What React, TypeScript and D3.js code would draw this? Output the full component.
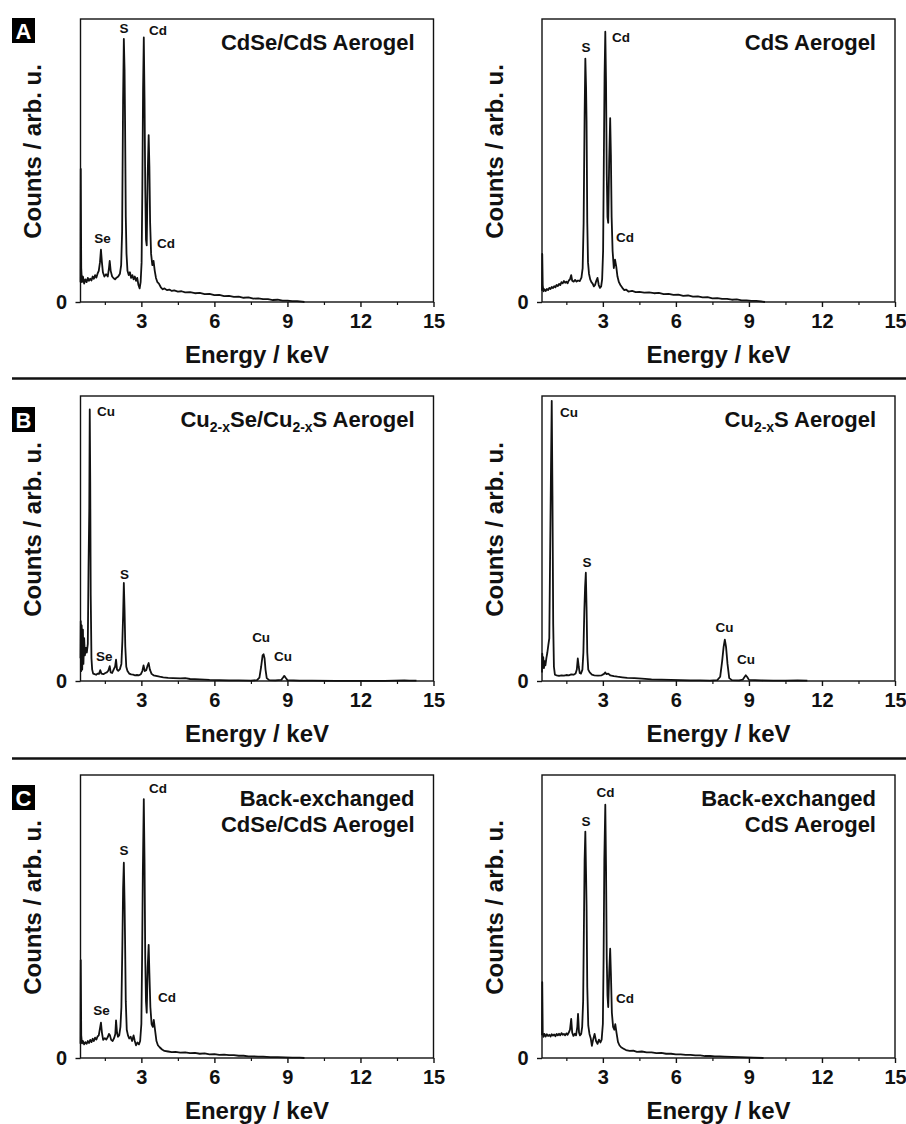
import React, { useRef, useEffect } from 'react';
import * as d3 from 'd3';

type Pt = [number, number];

// EDX spectra, energy in keV, counts as % of the plot height
const cdseCds: Pt[] = [
  [0.50, 7], [0.51, 47], [0.53, 12], [0.56, 7], [0.60, 9], [0.65, 6.5], [0.70, 8], [0.75, 7], [0.80, 8.5],
  [0.85, 7.5], [0.90, 8.2], [0.95, 7.6], [1.00, 9], [1.05, 8.2], [1.10, 9.5], [1.15, 8.6], [1.20, 10],
  [1.25, 11], [1.30, 14], [1.34, 18.5], [1.38, 14], [1.42, 10.5], [1.48, 9], [1.55, 9.8], [1.62, 9],
  [1.67, 12], [1.70, 14.5], [1.74, 11], [1.80, 9], [1.86, 8.4], [1.92, 8], [1.98, 8.6], [2.05, 9],
  [2.12, 10], [2.17, 13], [2.21, 25], [2.25, 72], [2.28, 93], [2.31, 82], [2.33, 64], [2.36, 30],
  [2.39, 17], [2.43, 11], [2.48, 9.5], [2.53, 10.5], [2.58, 8.5], [2.63, 9.5], [2.68, 8], [2.73, 9],
  [2.78, 7.5], [2.83, 8.5], [2.88, 6], [2.93, 4.8], [2.97, 7], [3.01, 14], [3.04, 40], [3.07, 75],
  [3.10, 93.5], [3.13, 72], [3.16, 40], [3.19, 22], [3.22, 20], [3.26, 45], [3.30, 59], [3.33, 48],
  [3.36, 28], [3.40, 17], [3.45, 13], [3.50, 14.5], [3.55, 11], [3.60, 8.5], [3.66, 7], [3.72, 6.5],
  [3.80, 5.2], [3.88, 4.5], [3.95, 4.8], [4.05, 4.2], [4.15, 4.4], [4.25, 3.9], [4.35, 4.1], [4.5, 3.7],
  [4.65, 3.8], [4.8, 3.4], [5.0, 3.5], [5.2, 3.1], [5.4, 3.2], [5.6, 2.8], [5.8, 2.9], [6.0, 2.4],
  [6.2, 2.5], [6.4, 2.1], [6.6, 2.2], [6.8, 1.8], [7.0, 1.9], [7.2, 1.5], [7.4, 1.6], [7.6, 1.2],
  [7.8, 1.3], [8.0, 1.0], [8.2, 1.0], [8.4, 0.7], [8.6, 0.8], [8.8, 0.5], [9.0, 0.5], [9.2, 0.3],
  [9.4, 0.3], [9.6, 0.1], [9.7, 0],
];

const cds: Pt[] = [
  [0.50, 4], [0.51, 17], [0.53, 6], [0.56, 3.8], [0.60, 4.5], [0.65, 3.9], [0.70, 4.6], [0.75, 4.2],
  [0.80, 5], [0.85, 4.6], [0.90, 5.3], [0.95, 4.9], [1.00, 5.6], [1.05, 5.2], [1.10, 6], [1.15, 5.6],
  [1.20, 6.4], [1.25, 6], [1.30, 7], [1.35, 6.6], [1.40, 7.4], [1.45, 6.8], [1.50, 7.2], [1.55, 6.6],
  [1.60, 7.6], [1.65, 8], [1.70, 9.5], [1.74, 7.5], [1.80, 7.2], [1.86, 7.8], [1.92, 7.2], [1.98, 7.6],
  [2.05, 7.4], [2.12, 8.6], [2.17, 12], [2.21, 28], [2.25, 66], [2.28, 86], [2.31, 76], [2.33, 64],
  [2.36, 28], [2.39, 14], [2.43, 10], [2.48, 8], [2.53, 7], [2.58, 6.5], [2.63, 5.5], [2.68, 6],
  [2.73, 7.5], [2.78, 8.5], [2.83, 6], [2.88, 5], [2.93, 5.5], [2.97, 8], [3.01, 18], [3.04, 50],
  [3.07, 80], [3.10, 95.5], [3.13, 78], [3.16, 45], [3.19, 30], [3.22, 28], [3.26, 50], [3.30, 65],
  [3.33, 52], [3.36, 30], [3.40, 18], [3.45, 12], [3.50, 15], [3.55, 12.5], [3.60, 9], [3.66, 7],
  [3.72, 6], [3.80, 5], [3.88, 4.2], [3.95, 4.4], [4.05, 3.7], [4.2, 3.9], [4.35, 3.5], [4.5, 3.6],
  [4.7, 3.3], [4.9, 3.4], [5.1, 3.1], [5.3, 3.2], [5.5, 2.8], [5.7, 2.9], [5.9, 2.5], [6.1, 2.6],
  [6.3, 2.2], [6.5, 2.3], [6.7, 1.9], [6.9, 2.0], [7.1, 1.6], [7.3, 1.7], [7.5, 1.3], [7.7, 1.4],
  [7.9, 1.1], [8.1, 1.1], [8.3, 0.8], [8.5, 0.9], [8.7, 0.6], [8.9, 0.6], [9.1, 0.4], [9.3, 0.4],
  [9.5, 0.2], [9.66, 0],
];

const cuSeCuS: Pt[] = [
  [0.50, 8], [0.51, 21], [0.53, 3.5], [0.55, 19.5], [0.57, 4], [0.60, 18], [0.62, 6], [0.65, 15],
  [0.68, 9], [0.72, 11.6], [0.76, 10], [0.80, 13], [0.83, 40], [0.86, 60], [0.88, 95.3], [0.90, 70],
  [0.92, 30], [0.95, 8], [0.98, 4], [1.02, 2.6], [1.08, 2.4], [1.14, 2.2], [1.20, 2.6], [1.26, 2.5],
  [1.31, 3.8], [1.36, 2.6], [1.44, 2.4], [1.52, 2.8], [1.58, 3], [1.64, 3.6], [1.70, 5.2], [1.74, 3],
  [1.80, 2.8], [1.86, 4], [1.92, 5], [1.96, 7.5], [2.00, 4], [2.05, 3.6], [2.12, 4.2], [2.18, 6],
  [2.22, 14], [2.25, 23], [2.28, 34.4], [2.31, 25], [2.34, 12], [2.38, 5], [2.43, 3.5], [2.50, 2.6],
  [2.58, 2.3], [2.66, 2.2], [2.74, 2.0], [2.82, 2.1], [2.90, 2.0], [2.98, 2.4], [3.04, 3.5], [3.09, 5.5],
  [3.14, 3.5], [3.20, 3.8], [3.26, 5.5], [3.30, 6.3], [3.35, 4], [3.42, 2.5], [3.50, 2], [3.60, 1.8],
  [3.75, 1.5], [3.90, 1.3], [4.10, 1.1], [4.30, 1.0], [4.60, 0.9], [4.80, 1.0], [5.0, 0.7], [5.4, 0.6],
  [5.8, 0.4], [6.2, 0.3], [6.6, 0.2], [7.0, 0.2], [7.5, 0.1], [7.75, 0.3], [7.85, 1.2], [7.92, 5],
  [7.98, 9], [8.02, 9.4], [8.06, 8], [8.10, 4], [8.15, 1], [8.25, 0.3], [8.50, 0.2], [8.75, 0.4],
  [8.82, 1.2], [8.87, 1.8], [8.92, 1.2], [9.00, 0.3], [9.5, 0.1], [10, 0.1], [11, 0.05], [12, 0.05],
  [13, 0.05], [13.8, 0.2], [14, 0.1], [14.3, 0.1],
];

const cuS: Pt[] = [
  [0.50, 3], [0.51, 9.6], [0.53, 4.9], [0.55, 8.4], [0.58, 4.5], [0.61, 7], [0.64, 5.5], [0.68, 8],
  [0.72, 10], [0.76, 12.6], [0.80, 15], [0.84, 50], [0.87, 75], [0.90, 98.3], [0.93, 65], [0.96, 20],
  [0.99, 5], [1.03, 2.2], [1.10, 2], [1.20, 1.8], [1.30, 2.0], [1.40, 1.9], [1.50, 2.1], [1.60, 2.0],
  [1.70, 2.3], [1.80, 2.2], [1.88, 2.6], [1.93, 4], [1.97, 7.9], [2.01, 5], [2.05, 2.8], [2.10, 2.6],
  [2.16, 4], [2.20, 10], [2.24, 25], [2.27, 33], [2.30, 38], [2.33, 26], [2.36, 10], [2.40, 4],
  [2.46, 3], [2.55, 2.2], [2.65, 2.0], [2.80, 1.9], [2.95, 2.0], [3.05, 2.5], [3.10, 3.0], [3.15, 2.4],
  [3.22, 2.6], [3.30, 2.0], [3.45, 1.7], [3.60, 1.5], [3.80, 1.3], [4.0, 1.1], [4.3, 1.0], [4.6, 0.8],
  [5.0, 0.6], [5.4, 0.5], [5.8, 0.4], [6.2, 0.3], [6.6, 0.2], [7.0, 0.2], [7.4, 0.1], [7.7, 0.3],
  [7.82, 1.5], [7.90, 7], [7.96, 12], [8.01, 14.5], [8.06, 12], [8.12, 6], [8.19, 1], [8.30, 0.3],
  [8.6, 0.2], [8.75, 0.5], [8.82, 1.4], [8.87, 2], [8.93, 1.4], [9.0, 0.4], [9.5, 0.2], [10, 0.1],
  [10.5, 0.1], [11.0, 0.2], [11.4, 0.1],
];

const backCdseCds: Pt[] = [
  [0.50, 5], [0.51, 34.6], [0.53, 8], [0.56, 5.2], [0.60, 6], [0.65, 4.8], [0.70, 5.6], [0.75, 5],
  [0.80, 6], [0.85, 5.3], [0.90, 6.4], [0.95, 5.6], [1.00, 6.8], [1.05, 6], [1.10, 7.2], [1.15, 6.5],
  [1.20, 7.6], [1.25, 8], [1.30, 10.5], [1.34, 12.5], [1.38, 9], [1.43, 6.4], [1.50, 7], [1.56, 6.5],
  [1.62, 7.4], [1.67, 8.5], [1.71, 8], [1.76, 6.4], [1.82, 6], [1.88, 7], [1.93, 8.5], [1.96, 13.3],
  [2.00, 9], [2.04, 7.5], [2.09, 8], [2.14, 11], [2.18, 18], [2.22, 40], [2.25, 60], [2.28, 69],
  [2.31, 55], [2.33, 42], [2.36, 20], [2.40, 10], [2.45, 8], [2.50, 6.9], [2.56, 7.5], [2.62, 6],
  [2.68, 8], [2.73, 6], [2.78, 4.5], [2.84, 5.5], [2.90, 4.8], [2.95, 6], [3.00, 12], [3.03, 35],
  [3.06, 65], [3.10, 91.5], [3.13, 70], [3.16, 35], [3.19, 20], [3.22, 16], [3.26, 32], [3.30, 40],
  [3.33, 30], [3.37, 18], [3.42, 12], [3.47, 11], [3.51, 13.5], [3.56, 10], [3.62, 6], [3.68, 4.5],
  [3.75, 3.8], [3.85, 3.0], [3.95, 2.5], [4.10, 2.3], [4.25, 2.1], [4.4, 2.2], [4.6, 1.9], [4.8, 2.0],
  [5.0, 1.7], [5.2, 1.8], [5.4, 1.5], [5.6, 1.6], [5.8, 1.3], [6.0, 1.4], [6.2, 1.1], [6.4, 1.2],
  [6.6, 1.0], [6.8, 1.0], [7.0, 0.8], [7.2, 0.8], [7.4, 0.6], [7.6, 0.6], [7.8, 0.5], [8.0, 0.5],
  [8.3, 0.3], [8.6, 0.3], [8.9, 0.2], [9.2, 0.1], [9.5, 0.1], [9.7, 0],
];

const backCds: Pt[] = [
  [0.50, 8], [0.51, 26.8], [0.53, 9], [0.56, 7.5], [0.60, 8.5], [0.65, 7.6], [0.70, 8.4], [0.75, 7.8],
  [0.80, 8.2], [0.85, 7.6], [0.90, 8.4], [0.95, 7.9], [1.00, 8.3], [1.05, 7.7], [1.10, 8.5], [1.15, 8],
  [1.20, 8.6], [1.25, 8], [1.30, 8.8], [1.35, 8.2], [1.40, 8.5], [1.45, 8], [1.50, 8.7], [1.55, 8.2],
  [1.60, 9], [1.65, 10], [1.70, 13.8], [1.74, 9], [1.79, 7.8], [1.85, 8.6], [1.90, 8], [1.95, 11],
  [1.98, 15.6], [2.02, 9], [2.06, 8], [2.11, 8.5], [2.15, 11], [2.19, 20], [2.22, 45], [2.25, 70],
  [2.28, 80], [2.31, 65], [2.33, 54], [2.36, 25], [2.40, 11.5], [2.45, 8.5], [2.50, 7], [2.55, 4.3],
  [2.60, 6.5], [2.66, 8.5], [2.72, 6], [2.78, 5], [2.84, 6.5], [2.90, 5.5], [2.95, 6.5], [3.00, 12],
  [3.03, 35], [3.06, 70], [3.10, 89.5], [3.13, 68], [3.16, 35], [3.19, 22], [3.22, 18], [3.26, 30],
  [3.30, 38.6], [3.33, 30], [3.37, 16], [3.42, 11], [3.47, 10], [3.51, 12], [3.56, 9], [3.62, 5.7],
  [3.68, 4.5], [3.75, 3.8], [3.85, 3.3], [3.95, 2.8], [4.10, 2.5], [4.25, 2.6], [4.4, 2.2], [4.6, 2.3],
  [4.8, 2.0], [5.0, 2.0], [5.2, 1.7], [5.4, 1.8], [5.6, 1.5], [5.8, 1.5], [6.0, 1.3], [6.2, 1.3],
  [6.4, 1.1], [6.6, 1.1], [6.8, 0.9], [7.0, 0.9], [7.2, 0.7], [7.4, 0.7], [7.6, 0.6], [7.8, 0.6],
  [8.0, 0.5], [8.3, 0.4], [8.6, 0.3], [8.9, 0.2], [9.2, 0.1], [9.6, 0],
];

// peak labels: [text, energy, counts, anchor]
type Lab = [string, number, number, string];
const cdseCdsLabels: Lab[] = [['S', 2.29, 95, 'middle'], ['Cd', 3.31, 94.3, 'start'], ['Se', 1.40, 20.8, 'middle'], ['Cd', 3.64, 19.1, 'start']];
const cdsLabels: Lab[] = [['S', 2.31, 88.3, 'middle'], ['Cd', 3.38, 91.9, 'start'], ['Cd', 3.54, 21.2, 'start']];
const cuSeCuSLabels: Lab[] = [['Cu', 1.18, 93, 'start'], ['S', 2.31, 35.8, 'middle'], ['Se', 1.14, 7, 'start'], ['Cu', 7.92, 13.8, 'middle'], ['Cu', 8.45, 7, 'start']];
const cuSLabels: Lab[] = [['Cu', 1.24, 92.6, 'start'], ['S', 2.35, 40, 'middle'], ['Cu', 8.0, 17.3, 'middle'], ['Cu', 8.51, 6, 'start']];
const backCdseCdsLabels: Lab[] = [['Cd', 3.31, 93.6, 'start'], ['S', 2.29, 71.7, 'middle'], ['Se', 1.36, 15.2, 'middle'], ['Cd', 3.68, 19.9, 'start']];
const backCdsLabels: Lab[] = [['Cd', 3.11, 92.3, 'middle'], ['S', 2.31, 82.1, 'middle'], ['Cd', 3.54, 19.4, 'start']];

// titles: lines of [text, isSubscript] segments
type Seg = [string, boolean];
const titleCdseCds: Seg[][] = [[['CdSe/CdS Aerogel', false]]];
const titleCds: Seg[][] = [[['CdS Aerogel', false]]];
const titleCuSeCuS: Seg[][] = [[['Cu', false], ['2-x', true], ['Se/Cu', false], ['2-x', true], ['S Aerogel', false]]];
const titleCuS: Seg[][] = [[['Cu', false], ['2-x', true], ['S Aerogel', false]]];
const titleBackCdseCds: Seg[][] = [[['Back-exchanged', false]], [['CdSe/CdS Aerogel', false]]];
const titleBackCds: Seg[][] = [[['Back-exchanged', false]], [['CdS Aerogel', false]]];

const rowLetters = ['A', 'B', 'C'];
const majorTicks = [3, 6, 9, 12, 15];
const minorTicks = [1.5, 4.5, 7.5, 10.5, 13.5];

const panels = [
  { row: 0, col: 0, data: cdseCds, labels: cdseCdsLabels, title: titleCdseCds },
  { row: 0, col: 1, data: cds, labels: cdsLabels, title: titleCds },
  { row: 1, col: 0, data: cuSeCuS, labels: cuSeCuSLabels, title: titleCuSeCuS },
  { row: 1, col: 1, data: cuS, labels: cuSLabels, title: titleCuS },
  { row: 2, col: 0, data: backCdseCds, labels: backCdseCdsLabels, title: titleBackCdseCds },
  { row: 2, col: 1, data: backCds, labels: backCdsLabels, title: titleBackCds },
];

const FONT = '"Liberation Sans", Arial, Helvetica, sans-serif';

function App() {
  const svgRef = useRef<SVGSVGElement>(null);

  useEffect(() => {
    const svg = d3.select(svgRef.current);
    svg.selectAll('*').remove();

    const width = 906;
    const height = 1124;
    const colLeft = [80.5, 542];
    const plotW = 353;
    const rowTB = [[19, 302], [396, 681], [775, 1058]];
    const letterY = [18, 407, 785];
    const sepY = [378.5, 758.5];

    svg.attr('width', width).attr('height', height)
      .style('font-family', FONT)
      .style('font-weight', 'bold');

    svg.append('rect').attr('width', width).attr('height', height).attr('fill', 'white');

    sepY.forEach(yy => {
      svg.append('line')
        .attr('x1', 12).attr('x2', width)
        .attr('y1', yy).attr('y2', yy)
        .attr('stroke', '#111').attr('stroke-width', 2.6);
    });

    rowLetters.forEach((l, i) => {
      const g = svg.append('g').attr('transform', `translate(12,${letterY[i]})`);
      g.append('rect').attr('width', 23).attr('height', 25).attr('fill', '#000');
      g.append('text').text(l)
        .attr('x', 11.5).attr('y', 20.5)
        .attr('text-anchor', 'middle')
        .attr('fill', '#fff')
        .style('font-size', '22px');
    });

    panels.forEach(p => {
      const left = colLeft[p.col];
      const right = left + plotW;
      const [top, bottom] = rowTB[p.row];

      const x = d3.scaleLinear().domain([0.5, 15]).range([left, right]);
      const y = d3.scaleLinear().domain([0, 100]).range([bottom, top]);

      const g = svg.append('g');

      const line = d3.line<Pt>().x(d => x(d[0])).y(d => y(d[1]));
      g.append('path')
        .datum(p.data)
        .attr('d', line)
        .attr('fill', 'none')
        .attr('stroke', '#111')
        .attr('stroke-width', 1.8)
        .attr('stroke-linejoin', 'round');

      g.append('rect')
        .attr('x', left).attr('y', top)
        .attr('width', right - left).attr('height', bottom - top)
        .attr('fill', 'none')
        .attr('stroke', '#111')
        .attr('stroke-width', 1.4);

      // x axis
      const xa = g.append('g')
        .attr('transform', `translate(0,${bottom})`)
        .call(d3.axisBottom(x).tickValues(majorTicks).tickSize(5).tickFormat(d3.format('d')));
      xa.select('.domain').remove();
      xa.selectAll('line').attr('stroke', '#111').attr('stroke-width', 1.4);
      xa.selectAll('text')
        .attr('y', 26).attr('dy', null)
        .attr('fill', '#111')
        .style('font-family', FONT)
        .style('font-weight', 'bold')
        .style('font-size', '20px');

      const xm = g.append('g')
        .attr('transform', `translate(0,${bottom})`)
        .call(d3.axisBottom(x).tickValues(minorTicks).tickSize(3).tickFormat(() => ''));
      xm.select('.domain').remove();
      xm.selectAll('line').attr('stroke', '#111').attr('stroke-width', 1.2);

      // y axis, only zero
      const ya = g.append('g')
        .attr('transform', `translate(${left},0)`)
        .call(d3.axisLeft(y).tickValues([0]).tickSize(5).tickPadding(8.5).tickFormat(d3.format('d')));
      ya.select('.domain').remove();
      ya.selectAll('line').attr('stroke', '#111').attr('stroke-width', 1.4);
      ya.selectAll('text')
        .attr('fill', '#111')
        .style('font-family', FONT)
        .style('font-weight', 'bold')
        .style('font-size', '20px');

      // axis titles
      g.append('text')
        .text('Energy / keV')
        .attr('x', (left + right) / 2)
        .attr('y', bottom + 61)
        .attr('text-anchor', 'middle')
        .attr('fill', '#111')
        .style('font-size', '24px');

      g.append('text')
        .text('Counts / arb. u.')
        .attr('transform', `translate(${left - 39.5},${(top + bottom) / 2 - 9}) rotate(-90)`)
        .attr('text-anchor', 'middle')
        .attr('fill', '#111')
        .style('font-size', '24px');

      // sample title
      p.title.forEach((segs, li) => {
        const t = g.append('text')
          .attr('x', right - 19)
          .attr('y', top + 31 + li * 26)
          .attr('text-anchor', 'end')
          .attr('fill', '#111')
          .style('font-size', '22px');
        let shifted = false;
        segs.forEach(([s, sub]) => {
          const ts = t.append('tspan').text(s);
          if (sub && !shifted) { ts.attr('dy', 5).style('font-size', '14px'); shifted = true; }
          else if (sub) { ts.style('font-size', '14px'); }
          else if (shifted) { ts.attr('dy', -5); shifted = false; }
        });
      });

      // peak labels
      g.selectAll('text.peak')
        .data(p.labels)
        .enter()
        .append('text')
        .attr('class', 'peak')
        .text(d => d[0])
        .attr('x', d => x(d[1]))
        .attr('y', d => y(d[2]))
        .attr('text-anchor', d => d[3])
        .attr('fill', '#111')
        .style('font-size', '13.5px');
    });
  }, []);

  return <svg ref={svgRef} style={{ position: 'absolute', left: 0, top: 0 }}></svg>;
}

export default App;
